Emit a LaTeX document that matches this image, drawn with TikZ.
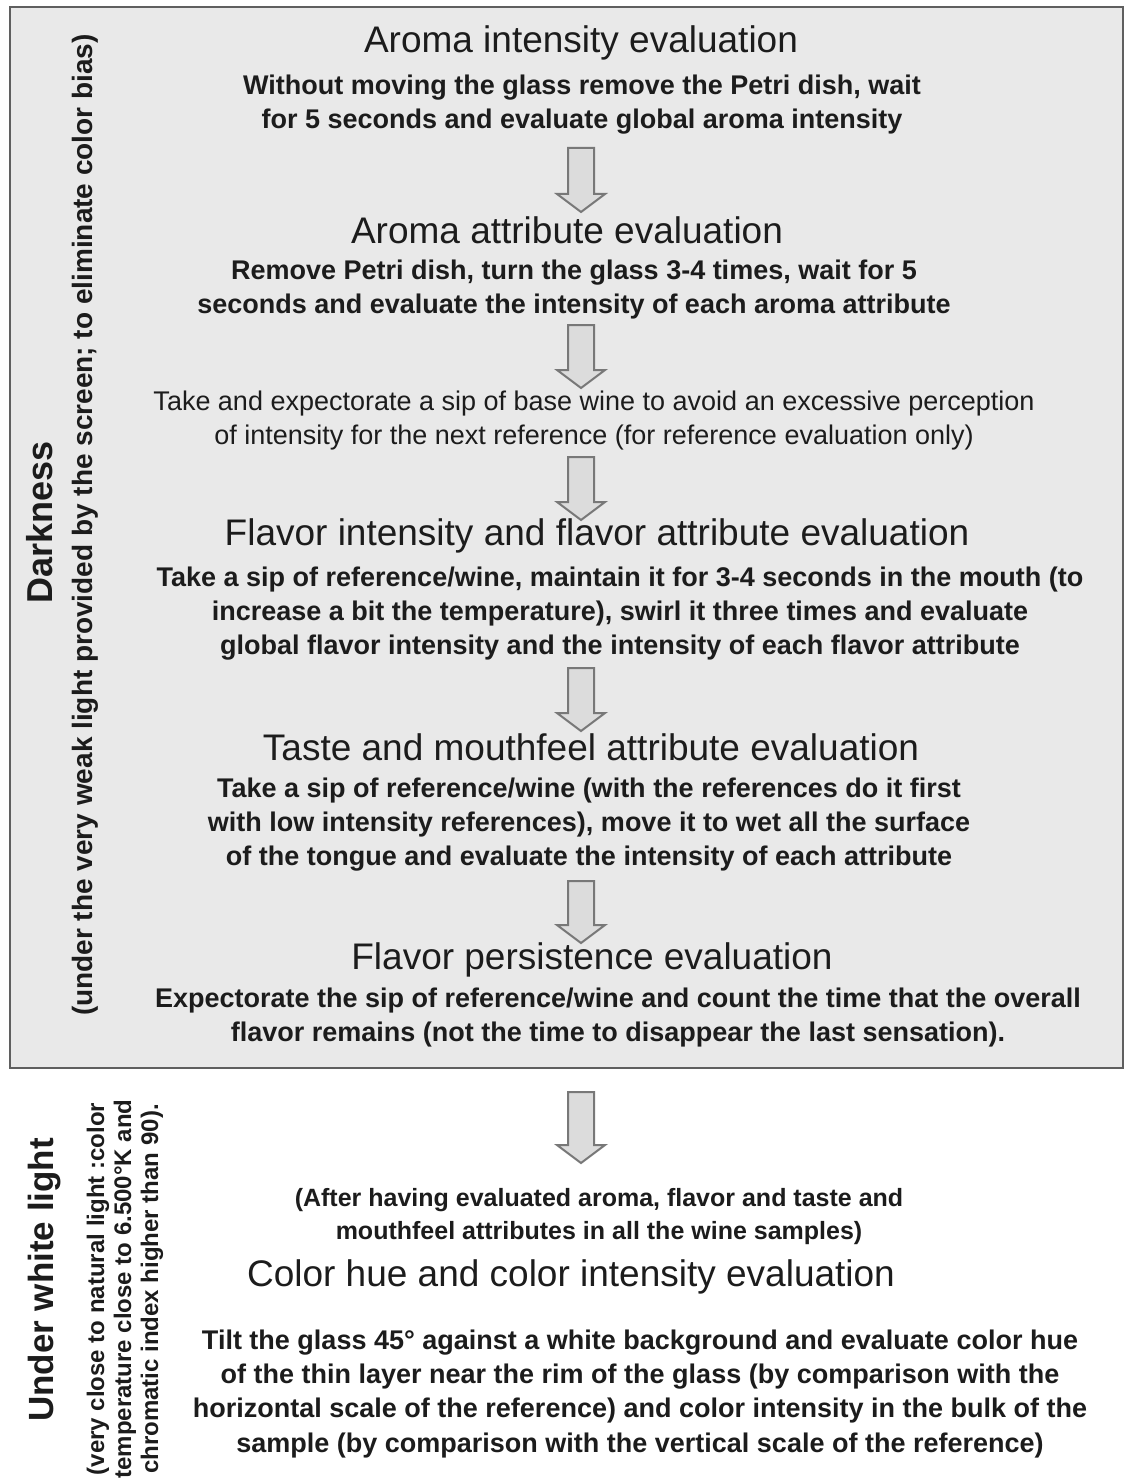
\documentclass[tikz,border=0pt]{standalone}
\usepackage{fontspec}
\setmainfont{Liberation Sans}
\usetikzlibrary{calc}

\definecolor{panelfill}{RGB}{233,233,233}
\definecolor{panelline}{RGB}{95,95,95}
\definecolor{arrowfill}{RGB}{220,220,220}
\definecolor{arrowline}{RGB}{120,120,120}
\definecolor{ink}{RGB}{28,28,28}

\newcommand{\fsz}[2]{\fontsize{#1}{#2}\selectfont}

\tikzset{
  heading/.style={font=\fsz{37}{42}, text=ink, inner sep=0pt},
  detail/.style={font=\bfseries\fsz{27}{34}, text=ink, align=center, inner sep=0pt},
  plainnote/.style={font=\fsz{27}{34}, text=ink, align=center, inner sep=0pt},
  sidetitle/.style={font=\bfseries\fsz{36}{40}, text=ink, rotate=90, inner sep=0pt},
  sidenote/.style={font=\bfseries\fsz{28}{32}, text=ink, rotate=90, inner sep=0pt},
  blockarrow/.style={draw=arrowline, line width=2pt, fill=arrowfill, line join=miter,
    to path={
      ($(\tikztostart)+(-13,0)$) -- ($(\tikztotarget)+(-13,-18)$)
      -- ($(\tikztotarget)+(-24,-18)$) -- (\tikztotarget)
      -- ($(\tikztotarget)+(24,-18)$) -- ($(\tikztotarget)+(13,-18)$)
      -- ($(\tikztostart)+(13,0)$) -- cycle}}
}

\begin{document}
\begin{tikzpicture}[x=1pt, y=-1pt]
\useasboundingbox (0,0) rectangle (1127,1479);

% dark-room panel
\draw[panelline, line width=2.8pt, fill=panelfill] (10,7) rectangle (1123,1068);

% side labels of the panel
\node[sidetitle] (dark) at (40,522) {Darkness};
\node[sidenote] (darknote) at (85,525) {(under the very weak light provided by the screen; to eliminate color bias)};

% steps in darkness
\node[heading] (h1) at (581,43) {Aroma intensity evaluation};
\node[detail] (d1) at (582,105) {Without moving the glass remove the Petri dish, wait\\for 5 seconds and evaluate global aroma intensity};

\node[heading] (h2) at (567,230) {Aroma attribute evaluation};
\node[detail] (d2) at (574,290) {Remove Petri dish, turn the glass 3-4 times, wait for 5\\seconds and evaluate the intensity of each aroma attribute};

\node[plainnote] (n3) at (594,421) {Take and expectorate a sip of base wine to avoid an excessive perception\\of intensity for the next reference (for reference evaluation only)};

\node[heading] (h4) at (597,536) {Flavor intensity and flavor attribute evaluation};
\node[detail] (d4) at (620,614) {Take a sip of reference/wine, maintain it for 3-4 seconds in the mouth (to\\increase a bit the temperature), swirl it three times and evaluate\\global flavor intensity and the intensity of each flavor attribute};

\node[heading] (h5) at (591,747) {Taste and mouthfeel attribute evaluation};
\node[detail] (d5) at (589,825) {Take a sip of reference/wine (with the references do it first\\with low intensity references), move it to wet all the surface\\of the tongue and evaluate the intensity of each attribute};

\node[heading] (h6) at (592,960) {Flavor persistence evaluation};
\node[detail] (d6) at (618,1018) {Expectorate the sip of reference/wine and count the time that the overall\\flavor remains (not the time to disappear the last sensation).};

% white-light stage
\node[font=\bfseries\fsz{35}{40}, text=ink, rotate=90, inner sep=0pt] (white) at (45,1280) {Under white light};
\node[font=\bfseries\fsz{24}{27}, text=ink, rotate=90, align=center, inner sep=0pt] (whitenote) at (125,1289)
  {(very close to natural light :color\\temperature close to 6.500°K and\\chromatic index higher than 90).};

\node[detail, font=\bfseries\fsz{25}{33}] (p7) at (599,1217) {(After having evaluated aroma, flavor and taste and\\mouthfeel attributes in all the wine samples)};
\node[heading] (h7) at (571,1277) {Color hue and color intensity evaluation};
\node[detail] (d7) at (640,1394) {Tilt the glass 45° against a white background and evaluate color hue\\of the thin layer near the rim of the glass (by comparison with the\\horizontal scale of the reference) and color intensity in the bulk of the\\sample (by comparison with the vertical scale of the reference)};

% arrow ends
\coordinate (a1s) at (581,148);  \coordinate (a1e) at (581,212);
\coordinate (a2s) at (581,325);  \coordinate (a2e) at (581,388);
\coordinate (a3s) at (581,457);  \coordinate (a3e) at (581,520);
\coordinate (a4s) at (581,668);  \coordinate (a4e) at (581,731);
\coordinate (a5s) at (581,881);  \coordinate (a5e) at (581,943);
\coordinate (a6s) at (581,1092); \coordinate (a6e) at (581,1163);

\draw[blockarrow] (a1s) to (a1e);
\draw[blockarrow] (a2s) to (a2e);
\draw[blockarrow] (a3s) to (a3e);
\draw[blockarrow] (a4s) to (a4e);
\draw[blockarrow] (a5s) to (a5e);
\draw[blockarrow] (a6s) to (a6e);
\end{tikzpicture}
\end{document}
